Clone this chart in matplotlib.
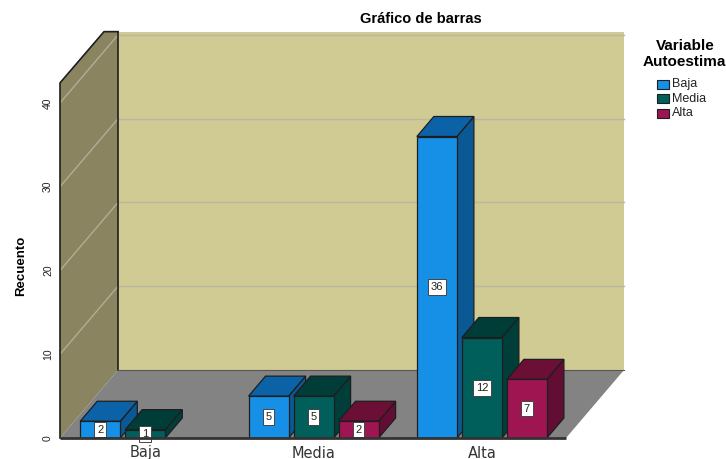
import matplotlib.pyplot as plt
from matplotlib.patches import Polygon, Rectangle

plt.rcParams['font.family'] = ['Liberation Sans', 'DejaVu Sans']

# data
categories = ['Baja', 'Media', 'Alta']
series_names = ['Baja', 'Media', 'Alta']
baja = [2, 5, 36]
media = [1, 5, 12]
alta = [0, 2, 7]
y_ticks = [0, 10, 20, 30, 40]

front_colors = ['#1690e6', '#005f5a', '#9f1551']
top_colors = ['#0c62a6', '#003d39', '#6b0f36']
side_colors = ['#0a5995', '#003e3a', '#620d33']

# figure geometry (pixels)
W, H = 726, 459
PX_X, PX_Y = 45.0, 8.375      # pixels per x unit / per count
X0, Y0 = 60, 438              # pixel of data origin


def px(x, y):
    """pixel position -> data coords (only used for layout)"""
    return (x - X0) / PX_X, (Y0 - y) / PX_Y


fig = plt.figure(figsize=(W / 100, H / 100), dpi=100)
ax = fig.add_axes([0, 0, 1, 1])
ax.set_xlim(-X0 / PX_X, (W - X0) / PX_X)
ax.set_ylim(-(H - Y0) / PX_Y, Y0 / PX_Y)
ax.axis('off')

depth_x, depth_y = 58 / PX_X, 68 / PX_Y
bar_dx, bar_dy = 17 / PX_X, 20 / PX_Y
floor_len = 506 / PX_X
front_top = 42.4
back_top = 40.4
edge = '#1e1e1e'

# walls and floor
wall_top = (depth_y + back_top)
ax.add_patch(Polygon([(0, 0), (0, front_top), (depth_x - 14 / PX_X, wall_top),
                      (depth_x, wall_top), (depth_x, depth_y)],
                     closed=True, facecolor='#8a8560', edgecolor='none'))
ax.add_patch(Rectangle((depth_x, depth_y), floor_len, back_top,
                       facecolor='#d0cb93', edgecolor='none'))
ax.add_patch(Polygon([(0, 0), (floor_len, 0), (floor_len + depth_x, depth_y),
                      (depth_x, depth_y)], closed=True,
                     facecolor='#838383', edgecolor='none'))

for v in y_ticks[1:]:
    ax.plot([depth_x, depth_x + floor_len], [depth_y + v, depth_y + v],
            color='#b9b6a4', lw=1, zorder=2)
    ax.plot([0, depth_x], [v, depth_y + v], color='#b0ad98', lw=1, zorder=2)

ax.plot([0, 0, depth_x - 14 / PX_X, depth_x], [0, front_top, wall_top, wall_top],
        color=edge, lw=1.2, zorder=3)
ax.plot([depth_x, depth_x], [depth_y, wall_top], color=edge, lw=1.2, zorder=3)
ax.plot([depth_x, depth_x + floor_len], [depth_y, depth_y], color='#555555',
        lw=0.8, zorder=3)

# bars
values = [baja, media, alta]
bar_w = 0.89
group_start = 0.45
group_step = 3.74
z = 4
for g, cat in enumerate(categories):
    for s in range(len(series_names)):
        v = values[s][g]
        x0 = group_start + g * group_step + s * 1.0
        x1 = x0 + bar_w
        if v > 0:
            ax.add_patch(Polygon([(x1, 0), (x1 + bar_dx, bar_dy),
                                  (x1 + bar_dx, v + bar_dy), (x1, v)],
                                 closed=True, facecolor=side_colors[s],
                                 edgecolor=edge, lw=0.9, zorder=z))
            ax.add_patch(Polygon([(x0, v), (x1, v), (x1 + bar_dx, v + bar_dy),
                                  (x0 + bar_dx, v + bar_dy)], closed=True,
                                 facecolor=top_colors[s], edgecolor=edge,
                                 lw=0.9, zorder=z))
            ax.add_patch(Rectangle((x0, 0), bar_w, v, facecolor=front_colors[s],
                                   edgecolor=edge, lw=0.9, zorder=z))
            ax.text(x0 + bar_w / 2, v / 2, str(v), ha='center', va='center',
                    fontsize=8, color='#222222', zorder=z + 1,
                    bbox=dict(boxstyle='square,pad=0.25', facecolor='white',
                              edgecolor='#444444', lw=0.7))
        z += 1
    cx = group_start + g * group_step + (2 + bar_w) / 2
    ax.text(cx, px(0, 453)[1], cat, ha='center', va='center', fontsize=10.5,
            color='#333333', family='DejaVu Sans')

# floor front edge
ax.plot([0, floor_len], [0, 0], color='#333333', lw=2, zorder=20,
        solid_capstyle='butt')

# y tick labels and axis label
for v in y_ticks:
    ax.text(px(48, 0)[0], v, str(v), rotation=90, ha='center', va='center',
            fontsize=7.5, color='#222222')
ax.text(*px(21, 266), 'Recuento', rotation=90, ha='center', va='center',
        fontsize=9.5, fontweight='bold')

# title
ax.text(*px(421, 19), 'Gráfico de barras', ha='center', va='center',
        fontsize=10.5, fontweight='bold')

# legend
ax.text(*px(685, 46), 'Variable', ha='center', va='center', fontsize=11,
        fontweight='bold')
ax.text(*px(684, 62), 'Autoestima', ha='center', va='center', fontsize=11,
        fontweight='bold')
for s, name in enumerate(series_names):
    ly = 84.5 + s * 14.3
    lx, lyd = px(657, ly + 4.5)
    ax.add_patch(Rectangle((lx, lyd), 12 / PX_X, 9 / PX_Y,
                           facecolor=front_colors[s], edgecolor=edge, lw=0.8))
    ax.text(*px(672, ly), name, ha='left', va='center', fontsize=9,
            color='#222222')

fig.savefig('out.png', dpi=100)
